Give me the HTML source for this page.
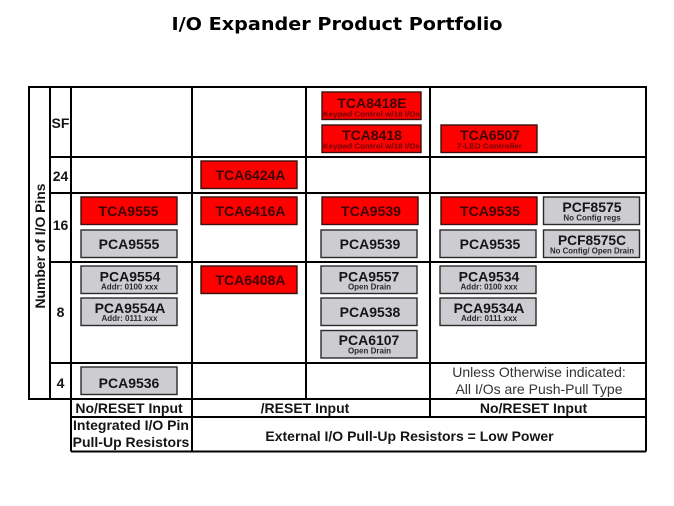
<!DOCTYPE html>
<html><head><meta charset="utf-8"><style>
html,body{margin:0;padding:0;background:#fff;width:674px;height:506px;overflow:hidden}
svg{display:block}
text{font-family:"Liberation Sans",Arial,sans-serif;font-weight:bold;fill:#151515;text-anchor:middle}
.r{fill:#fe0000;stroke:#3a1010;stroke-width:1.4}
.g{fill:#cdccd1;stroke:#2a2a2a;stroke-width:1.4}
.m{font-size:14px}
.s{font-size:8px;fill:#2a2a2a}
.rt{fill:#3d0505}
.rs{font-size:7.500px;fill:#6a0404}
.l{stroke:#000;stroke-width:2;fill:none}
.h{font-size:14px}
</style></head><body>
<svg width="674" height="506" viewBox="0 0 674 506" xmlns="http://www.w3.org/2000/svg">
<text x="337" y="30" style="font-family:'DejaVu Sans',Verdana,sans-serif;font-size:18px;fill:#000" textLength="331" lengthAdjust="spacingAndGlyphs">I/O Expander Product Portfolio</text>

<path class="l" d="M29 87H646V399H29ZM50 87V399M71 87V451.500M192 87V451.500M306 87V399M430 87V417M50 157H646M50 193H646M50 262H646M50 363H646M71 417H646M71 451.500H646M646 399V451.500"/>

<text transform="translate(45 246) rotate(-90)" font-size="14" textLength="125" lengthAdjust="spacingAndGlyphs">Number of I/O Pins</text>
<text x="60.500" y="128" class="h">SF</text>
<text x="60.500" y="181" class="h">24</text>
<text x="60.500" y="230" class="h">16</text>
<text x="60.500" y="317" class="h">8</text>
<text x="60.500" y="388" class="h">4</text>

<rect class="r" x="322" y="92" width="99" height="27.500"/>
<text x="372" y="108" class="m rt">TCA8418E</text>
<text x="371.500" y="116.500" class="rs" textLength="97" lengthAdjust="spacingAndGlyphs">Keypad Control w/18 I/Os</text>
<rect class="r" x="322" y="125" width="99" height="27.500"/>
<text x="372" y="140" class="m rt">TCA8418</text>
<text x="371.500" y="148.500" class="rs" textLength="97" lengthAdjust="spacingAndGlyphs">Keypad Control w/18 I/Os</text>
<rect class="r" x="441" y="125" width="96" height="27.500"/>
<text x="490" y="140" class="m rt">TCA6507</text>
<text x="489.500" y="148.500" class="rs" textLength="65" lengthAdjust="spacingAndGlyphs">7-LED Controller</text>

<rect class="r" x="201" y="161" width="96" height="27.500"/>
<text x="250.500" y="180" class="m rt">TCA6424A</text>

<rect class="r" x="81" y="197" width="96" height="27.500"/>
<text x="128.500" y="216" class="m rt">TCA9555</text>
<rect class="r" x="201" y="197" width="96" height="27.500"/>
<text x="250.500" y="216" class="m rt">TCA6416A</text>
<rect class="r" x="322" y="197" width="96" height="27.500"/>
<text x="371" y="216" class="m rt">TCA9539</text>
<rect class="r" x="441" y="197" width="96" height="27.500"/>
<text x="490" y="216" class="m rt">TCA9535</text>
<rect class="g" x="543.500" y="197" width="96" height="27.500"/>
<text x="592" y="212" class="m">PCF8575</text>
<text x="592" y="220.500" class="s">No Config regs</text>

<rect class="g" x="81" y="230" width="96" height="27.500"/>
<text x="129" y="249" class="m">PCA9555</text>
<rect class="g" x="321" y="230" width="96" height="27.500"/>
<text x="370" y="249" class="m">PCA9539</text>
<rect class="g" x="440" y="230" width="96" height="27.500"/>
<text x="490" y="249" class="m">PCA9535</text>
<rect class="g" x="543.500" y="230" width="96" height="27.500"/>
<text x="592" y="245" class="m" textLength="68" lengthAdjust="spacingAndGlyphs">PCF8575C</text>
<text x="592" y="253.500" class="s" textLength="84" lengthAdjust="spacingAndGlyphs">No Config/ Open Drain</text>

<rect class="g" x="81" y="266" width="96" height="27.500"/>
<text x="130" y="281.500" class="m">PCA9554</text>
<text x="129.500" y="289.500" class="s">Addr: 0100 xxx</text>
<rect class="g" x="81" y="298" width="96" height="27.500"/>
<text x="130" y="313" class="m">PCA9554A</text>
<text x="129.500" y="321" class="s">Addr: 0111 xxx</text>
<rect class="r" x="201" y="266" width="96" height="27.500"/>
<text x="250.500" y="285" class="m rt">TCA6408A</text>
<rect class="g" x="321" y="266" width="96" height="27.500"/>
<text x="369" y="281.500" class="m">PCA9557</text>
<text x="369.500" y="289.500" class="s">Open Drain</text>
<rect class="g" x="321" y="298" width="96" height="27.500"/>
<text x="370" y="317" class="m">PCA9538</text>
<rect class="g" x="321" y="330.500" width="96" height="27.500"/>
<text x="369" y="345" class="m">PCA6107</text>
<text x="369.500" y="353.500" class="s">Open Drain</text>
<rect class="g" x="440" y="266" width="96" height="27.500"/>
<text x="489" y="281.500" class="m">PCA9534</text>
<text x="489" y="289.500" class="s">Addr: 0100 xxx</text>
<rect class="g" x="440" y="298" width="96" height="27.500"/>
<text x="489" y="313" class="m">PCA9534A</text>
<text x="489" y="321" class="s">Addr: 0111 xxx</text>
<rect class="g" x="81" y="367" width="96" height="27.500"/>
<text x="129" y="388" class="m">PCA9536</text>

<text x="539" y="377" style="font-size:14px;font-weight:normal;fill:#333">Unless Otherwise indicated:</text>
<text x="539" y="394" style="font-size:14px;font-weight:normal;fill:#333">All I/Os are Push-Pull Type</text>

<text x="129" y="413" class="h">No/RESET Input</text>
<text x="305" y="413" class="h">/RESET Input</text>
<text x="533.500" y="413" class="h">No/RESET Input</text>
<text x="131" y="430" class="h">Integrated I/O Pin</text>
<text x="131" y="447" class="h">Pull-Up Resistors</text>
<text x="409.500" y="441" class="h">External I/O Pull-Up Resistors = Low Power</text>
</svg>
</body></html>
